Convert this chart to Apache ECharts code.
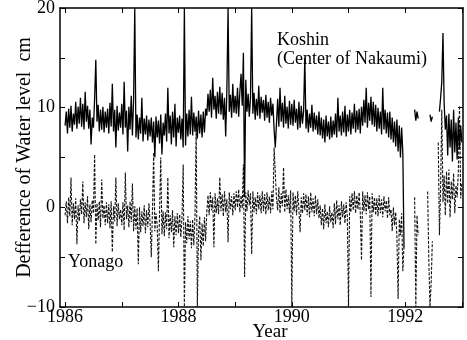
<!DOCTYPE html>
<html>
<head>
<meta charset="utf-8">
<script src="https://cdn.jsdelivr.net/npm/echarts@6/dist/echarts.min.js"></script>
<style>
  html, body { margin: 0; padding: 0; background: #fff; }
  #chart { width: 467px; height: 340px; }
</style>
</head>
<body>
<div id="chart"></div>
<script>
// Water-level difference (cm), sampled every 1/48 year starting 1986.0
const START_YEAR = 1986;
const SAMPLES_PER_YEAR = 48;

// Koshin (Center of Nakaumi), solid trace; null = no record
const koshin = [
  8.2, 9.6, 7.4, 9.9, 8.0, 10.2, 7.6, 9.4, 8.3, 10.6, 7.9, 10.1,
  8.4, 11.0, 8.1, 10.4, 7.8, 11.6, 8.6, 10.2, 7.9, 9.8, 6.3, 9.0,
  8.0, 10.9, 14.8, 8.6, 10.3, 7.6, 9.8, 7.8, 10.1, 7.5, 9.6, 8.0,
  9.9, 7.4, 10.5, 8.1, 12.4, 7.6, 9.8, 6.0, 10.2, 7.7, 9.5, 8.0,
  10.4, 7.3, 12.6, 8.0, 9.7, 5.6, 10.1, 7.8, 11.2, 7.2, 10.8, 20,
  7.0, 9.3, 6.8, 9.0, 7.4, 11.0, 6.6, 8.9, 7.3, 9.2, 6.7, 8.8,
  7.1, 9.0, 6.5, 8.6, 5.0, 9.1, 7.0, 8.7, 6.4, 9.3, 5.3, 8.5,
  7.2, 9.4, 6.6, 12.0, 7.4, 9.2, 6.3, 9.6, 7.0, 10.4, 6.1, 9.0,
  7.5, 9.2, 6.8, 8.9, 6.0, 20, 6.2, 9.4, 7.1, 9.8, 7.3, 11.1,
  7.2, 9.5, 7.6, 9.1, 6.9, 9.7, 7.4, 9.3, 7.0, 9.6, 7.5, 9.9,
  9.2, 11.4, 9.6, 11.8, 9.0, 13.0, 9.8, 11.2, 8.9, 11.6, 9.4, 12.1,
  9.3, 11.5, 8.8, 11.0, 7.1, 11.8, 20, 9.6, 11.3, 9.0, 12.4, 9.5,
  11.2, 9.4, 12.0, 9.1, 11.6, 13.4, 10.2, 15.5, 1.0, 12.8, 9.6, 11.4,
  9.1, 11.0, 20, 9.4, 11.5, 8.8, 10.9, 9.2, 12.2, 8.9, 11.1, 9.5,
  10.8, 8.7, 11.3, 9.0, 10.6, 8.5, 11.0, 9.2, 10.4, 7.8, 6.0, 8.4,
  10.9, 8.1, 12.0, 8.6, 10.5, 8.0, 11.2, 8.4, 10.1, 7.9, 10.7, 8.3,
  10.4, 8.2, 10.8, 8.5, 9.9, 7.8, 10.6, 8.0, 10.2, 8.4, 9.7, 15.0,
  7.9, 9.8, 7.5, 9.4, 8.0, 10.3, 7.6, 9.5, 7.8, 9.2, 7.3, 9.6,
  7.2, 9.0, 6.9, 8.8, 6.5, 9.2, 7.1, 8.6, 6.8, 9.1, 7.0, 8.7,
  7.3, 9.4, 7.0, 11.0, 7.6, 9.2, 7.2, 9.6, 7.5, 10.2, 7.1, 9.3,
  7.6, 9.8, 7.3, 9.5, 7.9, 10.4, 7.5, 9.7, 7.8, 9.9, 7.4, 10.1,
  8.2, 10.8, 8.5, 12.0, 8.0, 10.5, 8.7, 11.1, 8.3, 10.6, 8.1, 10.3,
  7.6, 10.0, 7.9, 9.6, 7.3, 12.0, 7.8, 9.8, 7.4, 9.5, 7.0, 9.6,
  6.8, 9.0, 6.5, 8.6, 6.1, 8.8, 5.6, 8.2, 5.0, 8.0, 5.5, -4.0,
  null, null, null, null, null, null, null, null, 9.8, 8.7, 9.6, 8.9,
  null, null, null, null, null, null, null, null, null, 9.3, 8.6, 9.1,
  null, null, null, null, null, 9.6, 11.0, 12.6, 17.5, 10.4, 7.8, 9.2,
  5.2, 9.4, 6.0, 8.8, 4.6, 9.8, 5.5, 8.5, 4.8, 9.0, 5.9, 8.2,
  6.5
];

// Yonago, dashed trace; null = no record
const yonago = [
  -0.8, 0.6, -1.6, 1.0, -0.9, 3.0, -1.8, 0.4, -1.2, 0.9, -3.7, 0.2,
  -1.4, 0.8, -0.7, 2.6, -1.6, 0.5, -1.0, 1.1, -2.2, 0.3, -1.5, 0.7,
  -0.6, 5.3, -3.7, 0.4, -1.3, 0.6, -2.0, 2.8, -1.1, 0.2, -1.8, 0.5,
  -1.6, 0.3, -2.1, 0.6, -4.5, 0.1, -1.4, 3.0, -1.9, 0.4, -1.2, -0.2,
  -1.8, 0.5, -2.3, 3.5, -1.2, 0.2, -2.0, 0.6, -1.5, 2.4, -2.4, 0.1,
  -2.2, -0.1, -5.7, 0.0, -2.5, -0.4, -1.9, 0.2, -2.6, -0.3, -2.0, 0.4,
  -1.6, -5.0, -0.2, 5.5, -2.4, -0.6, -1.8, -6.4, -0.5, 5.0, -2.7, -0.4,
  -2.9, -0.5, -2.2, 3.0, -3.1, -0.8, -2.5, -0.3, -4.0, -0.9, -2.8, -0.6,
  -2.6, -0.7, -3.0, -1.0, 4.3, -10, -1.5, -3.6, -0.9, -3.2, -1.4, -4.1,
  -1.2, -3.8, -0.8, 8.0, -10, -2.5, -0.9, -5.3, -1.6, -3.9, -1.0, -3.4,
  -0.5, 1.2, -0.8, 1.5, -0.3, 1.0, -4.0, 1.4, -0.6, 0.9, -0.7, 3.0,
  -0.4, 1.3, -0.9, 1.6, -0.5, 0.8, -3.5, 1.5, -0.2, 1.1, -0.8, 1.4,
  -0.3, 1.6, 0.0, 1.8, -0.5, 1.2, -0.1, 4.3, -7.0, 1.5, -0.4, 1.7,
  0.2, 1.4, -4.7, 1.6, -0.5, 1.0, -0.7, 1.5, -0.2, 1.2, -0.6, 1.6,
  -0.4, 1.3, -0.7, 1.5, -0.3, 1.1, -0.6, 1.6, -0.2, 6.0, 3.5, 0.9,
  -0.3, 2.0, -0.6, 1.4, 0.1, 4.0, -0.5, 1.8, -0.2, 1.2, -0.6, 1.7,
  -10, 1.5, -0.4, 1.2, -0.8, 1.6, -0.2, -2.5, 1.0, -0.6, 1.4, -0.3,
  1.3, -0.8, 1.1, -1.0, 1.5, -0.5, 0.9, -0.9, 1.2, -0.7, 0.8, -1.1,
  0.2, -1.8, -0.1, -2.2, 0.3, -1.6, -0.4, -2.0, 0.1, -1.5, -0.5, -2.1,
  0.4, -1.7, 0.7, -1.2, 0.2, -1.8, 0.6, -1.0, 0.3, -1.6, 0.5, -0.9,
  -10, 1.1, -0.5, 1.4, -0.3, 1.6, -0.6, 1.2, -0.2, 1.5, -0.7, -5.3,
  1.6, -0.4, 1.2, -0.7, 1.5, -0.2, 1.1, -9.0, 1.4, -0.5, 1.0, -0.8,
  0.9, -0.9, 1.2, -0.6, 0.8, -1.0, 1.1, -0.4, 0.7, -1.1, 1.0, -0.8,
  -0.2, -2.4, 0.0, -1.8, -0.5, -3.0, -9.2, -1.2, -2.8, -0.6, -6.4, -3.9,
  null, null, null, null, null, null, null, null, 1.0, -10, -0.8, -2.8,
  null, null, null, null, null, null, null, 1.6, -5.2, -10, -7.6, -3.4,
  null, null, null, null, 6.5, -2.8, 2.0, 9.8, 0.5, 3.2, -0.8, 3.6,
  0.4, 3.8, -1.0, 2.6, 0.8, 3.4, -0.6, 2.2, 1.0, 3.6, 10.2, 0.9,
  2.4
];

// Axis ticks and labels
const yearTicks = [1986, 1987, 1988, 1989, 1990, 1991, 1992, 1993];
const yearLabels = [1986, 1988, 1990, 1992];
const levelLabels = [-10, 0, 10, 20];

const toPoints = arr => arr.map((v, i) => [START_YEAR + i / SAMPLES_PER_YEAR, v === null ? '-' : v]);

const FONT = 'Liberation Serif';
const X_MIN = 1985.91, X_MAX = 1993.02;

const chart = echarts.init(document.getElementById('chart'), null, { renderer: 'canvas' });

const tickStyle = { show: true, inside: true, length: 5, lineStyle: { color: '#000', width: 1 } };
const axisLine = { show: true, onZero: false, lineStyle: { color: '#000', width: 1.5 } };

chart.setOption({
  animation: false,
  backgroundColor: '#fff',
  grid: { left: 60, right: 4, top: 8, bottom: 33, containLabel: false, outerBoundsMode: 'none' },
  xAxis: [
    {
      type: 'value', min: X_MIN, max: X_MAX, position: 'bottom',
      axisLine: axisLine,
      axisTick: Object.assign({ customValues: yearTicks }, tickStyle),
      axisLabel: {
        customValues: yearLabels, margin: 1,
        fontFamily: FONT, fontSize: 18, color: '#000',
        formatter: v => String(Math.round(v))
      },
      splitLine: { show: false },
      name: 'Year', nameLocation: 'middle', nameGap: 16, nameMoveOverlap: false,
      nameTextStyle: { fontFamily: FONT, fontSize: 19, color: '#000', padding: [0, 0, 0, 17] }
    },
    {
      type: 'value', min: X_MIN, max: X_MAX, position: 'top',
      axisLine: axisLine,
      axisTick: Object.assign({ customValues: yearTicks }, tickStyle),
      axisLabel: { show: false },
      splitLine: { show: false }
    }
  ],
  yAxis: [
    {
      type: 'value', min: -10, max: 20, interval: 5, position: 'left',
      axisLine: axisLine,
      axisTick: tickStyle,
      axisLabel: {
        customValues: levelLabels, margin: 5,
        fontFamily: FONT, fontSize: 18, color: '#000',
        formatter: v => (v < 0 ? '\u2212' + Math.abs(v) : String(v))
      },
      splitLine: { show: false },
      name: 'Defference of Water level  cm', nameLocation: 'middle', nameGap: 25, nameMoveOverlap: false,
      nameTextStyle: { fontFamily: FONT, fontSize: 20, color: '#000' }
    },
    {
      type: 'value', min: -10, max: 20, interval: 5, position: 'right',
      axisLine: axisLine,
      axisTick: tickStyle,
      axisLabel: { show: false },
      splitLine: { show: false }
    }
  ],
  series: [
    {
      name: 'Yonago', type: 'line', xAxisIndex: 0, yAxisIndex: 0,
      data: toPoints(yonago), showSymbol: false, connectNulls: false,
      sampling: null, silent: true,
      lineStyle: { color: '#111', width: 1.1, type: [3, 1.5] }
    },
    {
      name: 'Koshin', type: 'line', xAxisIndex: 0, yAxisIndex: 0,
      data: toPoints(koshin), showSymbol: false, connectNulls: false,
      sampling: null, silent: true,
      lineStyle: { color: '#000', width: 1.3 }
    }
  ],
  graphic: [
    {
      type: 'text', left: 277, top: 31,
      style: { text: 'Koshin\n(Center of Nakaumi)', font: '18px "Liberation Serif"', fill: '#000', lineHeight: 19 }
    },
    {
      type: 'text', left: 68, top: 253,
      style: { text: 'Yonago', font: '18px "Liberation Serif"', fill: '#000' }
    }
  ]
});
</script>
</body>
</html>
